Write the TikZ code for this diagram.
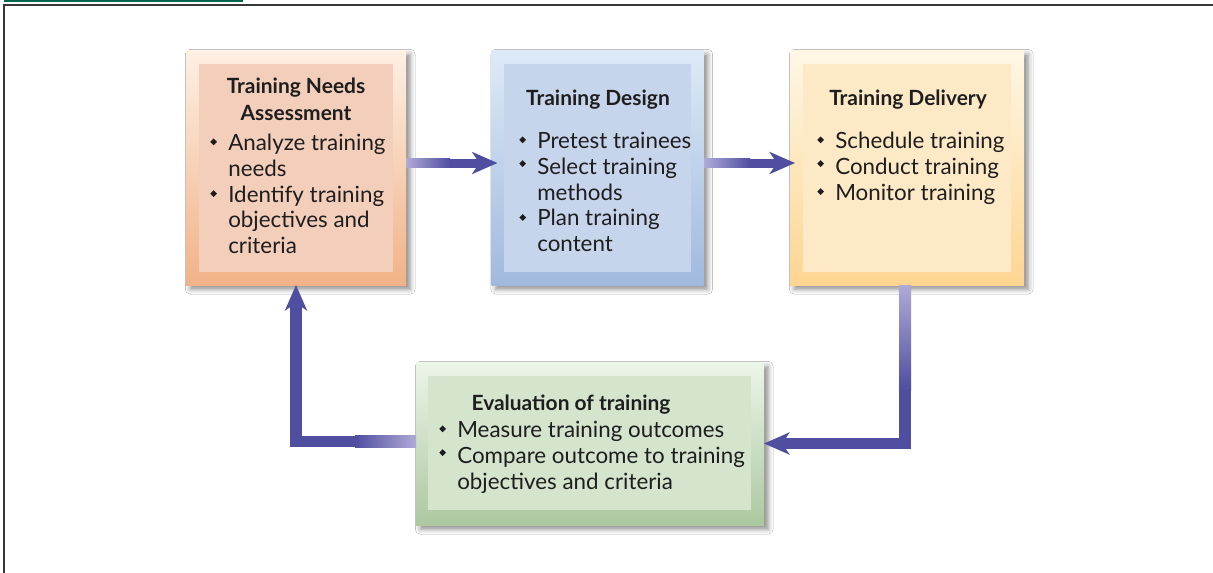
\documentclass[tikz,border=0pt]{standalone}
\usepackage{fontspec}
\setmainfont{Lato}
\usepackage{graphicx}
\usetikzlibrary{arrows.meta,shadows.blur}
\definecolor{c1t}{RGB}{253,240,228}
\definecolor{c1o}{RGB}{241,178,135}
\definecolor{c1i}{RGB}{243,206,187}
\definecolor{c2t}{RGB}{222,234,247}
\definecolor{c2o}{RGB}{160,185,222}
\definecolor{c2i}{RGB}{198,212,236}
\definecolor{c3t}{RGB}{255,247,230}
\definecolor{c3o}{RGB}{253,213,145}
\definecolor{c3i}{RGB}{254,233,198}
\definecolor{c4t}{RGB}{236,245,233}
\definecolor{c4o}{RGB}{172,200,160}
\definecolor{c4i}{RGB}{212,228,205}
\definecolor{arr}{RGB}{79,78,160}
\definecolor{arrl}{RGB}{176,170,215}
\definecolor{framec}{RGB}{55,55,55}
\definecolor{topgreen}{RGB}{0,102,76}
\definecolor{txt}{RGB}{30,30,30}
\newcommand\pxu{0.025cm}
\newcommand\bul{\makebox[12.8pt][l]{\raisebox{3.6pt}{\rotatebox{45}{\rule{3.4pt}{3.4pt}}}}}
\newcommand\bulh{\makebox[12.8pt][l]{\raisebox{5.1pt}{\rotatebox{45}{\rule{3.4pt}{3.4pt}}}}}
\newcommand\ind{\hspace*{12.8pt}}
\begin{document}
\begin{tikzpicture}[x=\pxu, y=-\pxu,
  box/.style={inner sep=0, outer sep=0, draw=none,
    blur shadow={shadow xshift=3pt, shadow yshift=-3pt, shadow blur radius=3.5pt, shadow opacity=45}},
  inbox/.style={inner sep=0, outer sep=0, draw=none},
  ttl/.style={font=\fontsize{14.9}{19.2}\selectfont\bfseries, text=txt, align=center, inner sep=0, anchor=north},
  lst/.style={font=\fontsize{15.9}{18.4}\selectfont, text=txt, align=left, inner sep=0, anchor=north west},
  conn/.style={draw=arr, line join=miter, -{Stealth[length=18pt,width=15.5pt,inset=5pt]}}
]
\useasboundingbox (0,0) rectangle (1213,573);
\fill[white] (0,0) rectangle (1213,573);
% frame
\draw[framec, line width=1.4pt] (4,573) -- (4,5) -- (1213,5);
\draw[topgreen, line width=1.6pt] (4,0.6) -- (243,0.6);

% boxes
\node[box, top color=c1t, bottom color=c1o, minimum width=220*\pxu, minimum height=235*\pxu] (n1) at (296,167.5) {};
\node[inbox, fill=c1i, minimum width=194*\pxu, minimum height=208*\pxu] (n1i) at (296,168) {};
\node[box, top color=c2t, bottom color=c2o, minimum width=212*\pxu, minimum height=235*\pxu] (n2) at (597.5,167.5) {};
\node[inbox, fill=c2i, minimum width=187*\pxu, minimum height=208*\pxu] (n2i) at (597.5,168) {};
\node[box, top color=c3t, bottom color=c3o, minimum width=234*\pxu, minimum height=235*\pxu] (n3) at (907,167.5) {};
\node[inbox, fill=c3i, minimum width=208*\pxu, minimum height=208*\pxu] (n3i) at (907,168) {};
\node[box, top color=c4t, bottom color=c4o, minimum width=348*\pxu, minimum height=163*\pxu] (n4) at (590,443.5) {};
\node[inbox, fill=c4i, minimum width=323*\pxu, minimum height=134*\pxu] (n4i) at (589.5,443) {};

% texts
\node[ttl] (t1) at (296,74.1) {\strut Training Needs\\Assessment};
\node[lst] (l1) at (210,131.9) {\strut\bul Analyze training\\\ind needs\\\bul Identify training\\\ind objectives and\\\ind criteria};
\node[ttl] (t2) at (598,86.1) {\strut Training Design};
\node[lst] (l2) at (519,129.9) {\strut\bul Pretest trainees\\\bulh Select training\\\ind methods\\\bul Plan training\\\ind content};
\node[ttl] (t3) at (908,86.1) {\strut Training Delivery};
\node[lst] (l3) at (817,129.9) {\strut\bul Schedule training\\\bulh Conduct training\\\bul Monitor training};
\node[ttl] (t4) at (571,391.1) {\strut Evaluation of training};
\node[lst] (l4) at (439,418.9) {\strut\bul Measure training outcomes\\\bulh Compare outcome to training\\\ind objectives and criteria};

% connectors
\coordinate (ya) at (0,163);
\coordinate (xr) at (905,0);
\coordinate (yb) at (0,443.5);
\coordinate (xl) at (296,0);
\coordinate (yc) at (0,441.5);

\draw[conn, line width=6.4pt, shorten >=-4.3pt] (n1.east |- ya) -- (n2.west |- ya);
\shade[left color=arrl, right color=arr] (406,158.5) rectangle (450,167.5);
\draw[conn, line width=6.4pt, shorten >=-3.6pt] (n2.east |- ya) -- (n3.west |- ya);
\shade[left color=arrl, right color=arr] (704,158.5) rectangle (750,167.5);

\draw[conn, line width=8.5pt] (n3.south -| xr) |- (n4.east |- yb);
\shade[top color=arrl, bottom color=arr] (899,285) rectangle (911,390);

\draw[conn, line width=8.5pt] (n4.west |- yc) -| (n1.south -| xl);
\shade[left color=arr, right color=arrl] (355,435.5) rectangle (416,447.5);
\end{tikzpicture}
\end{document}
